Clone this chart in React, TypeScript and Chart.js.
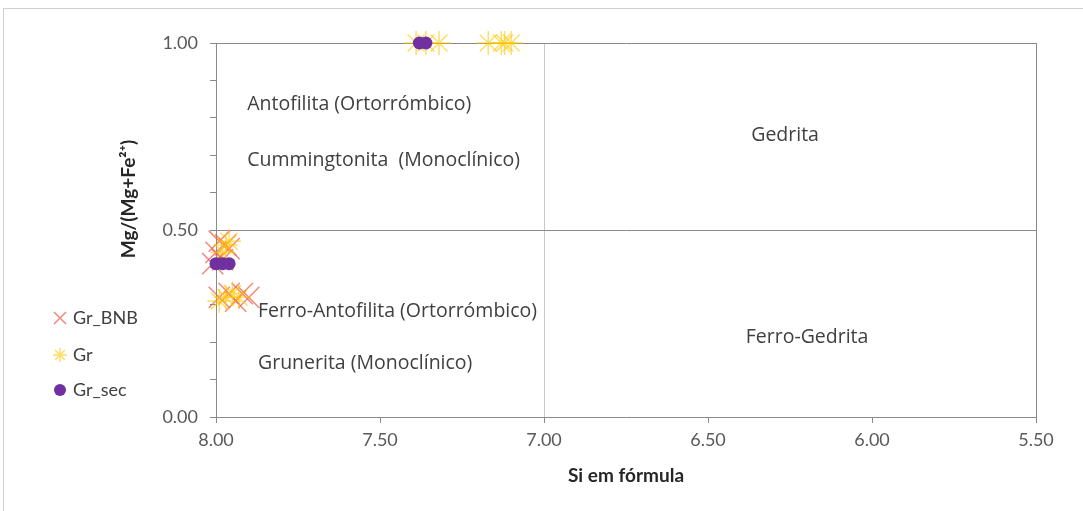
import React, { useEffect, useRef } from "react";
import { Chart, registerables } from "chart.js";

Chart.register(...registerables);

// ---- data ----
const grBnbSi = [7.99, 7.97, 7.96, 8.0, 7.98, 8.01, 7.99, 7.96, 7.92, 7.94, 7.9];
const grBnbMg = [0.47, 0.46, 0.45, 0.44, 0.42, 0.41, 0.32, 0.33, 0.33, 0.31, 0.32];

const grSi = [7.97, 7.96, 7.98, 7.99, 7.97, 7.95, 7.93, 7.39, 7.36, 7.32, 7.17, 7.13, 7.12, 7.1];
const grMg = [0.46, 0.47, 0.44, 0.31, 0.32, 0.33, 0.32, 1.0, 1.0, 1.0, 1.0, 1.0, 1.0, 1.0];

const grSecSi = [8.0, 7.98, 7.96, 7.38, 7.36];
const grSecMg = [0.41, 0.41, 0.41, 1.0, 1.0];

const seriesNames = ["Gr_BNB", "Gr", "Gr_sec"];
const xTitle = "Si em fórmula";
const yTitle = "Mg/(Mg+Fe²⁺)";

const fieldLabels = [
  "Antofilita (Ortorrómbico)",
  "Cummingtonita  (Monoclínico)",
  "Gedrita",
  "Ferro-Antofilita (Ortorrómbico)",
  "Grunerita (Monoclínico)",
  "Ferro-Gedrita",
];
const fieldSi = [7.905, 7.905, 6.265, 7.872, 7.872, 6.198];
const fieldMg = [0.837, 0.687, 0.754, 0.281, 0.144, 0.214];
const fieldAlign = ["left", "left", "center", "left", "left", "center"];

const RED = "rgba(238, 96, 80, 0.75)";
const YELLOW = "rgba(255, 200, 0, 0.6)";
const PURPLE = "#7030A0";
const FONT = "Lato, 'Open Sans', sans-serif";
const FONT2 = "'Open Sans', Lato, sans-serif";

const toPts = (xs: number[], ys: number[]) => xs.map((x, i) => ({ x, y: ys[i] }));

const near = (a: number, b: number) => Math.abs(a - b) < 1e-6;

const decorPlugin = {
  id: "decor",
  afterDatasetsDraw(chart: any) {
    const { ctx, scales } = chart;
    const xs = scales.x;
    const ys = scales.y;
    ctx.save();
    ctx.fillStyle = "#404040";
    ctx.font = `19.5px ${FONT2}`;
    ctx.textBaseline = "middle";
    fieldLabels.forEach((t, i) => {
      ctx.textAlign = fieldAlign[i];
      ctx.fillText(t, xs.getPixelForValue(fieldSi[i]), ys.getPixelForValue(fieldMg[i]));
    });
    ctx.restore();
  },
  afterDraw(chart: any) {
    const { ctx, chartArea } = chart;
    ctx.save();
    ctx.strokeStyle = "#d0d0d0";
    ctx.lineWidth = 1;
    ctx.beginPath();
    ctx.moveTo(3.5, 511);
    ctx.lineTo(3.5, 8.5);
    ctx.lineTo(1083, 8.5);
    ctx.stroke();

    ctx.fillStyle = "#262626";
    ctx.font = `bold 19px ${FONT}`;
    ctx.textAlign = "center";
    ctx.textBaseline = "middle";
    ctx.fillText(xTitle, (chartArea.left + chartArea.right) / 2, 476);
    ctx.save();
    ctx.translate(129, 199);
    ctx.rotate(-Math.PI / 2);
    ctx.fillText(yTitle, 0, 0);
    ctx.restore();

    const lx = 60;
    const rows = [318, 355, 390];
    ctx.lineWidth = 1.5;
    ctx.strokeStyle = RED;
    ctx.beginPath();
    ctx.moveTo(lx - 6, rows[0] - 6);
    ctx.lineTo(lx + 6, rows[0] + 6);
    ctx.moveTo(lx + 6, rows[0] - 6);
    ctx.lineTo(lx - 6, rows[0] + 6);
    ctx.stroke();
    ctx.strokeStyle = YELLOW;
    ctx.beginPath();
    for (let k = 0; k < 4; k++) {
      const a = (k * Math.PI) / 4;
      ctx.moveTo(lx - Math.cos(a) * 7, rows[1] - Math.sin(a) * 7);
      ctx.lineTo(lx + Math.cos(a) * 7, rows[1] + Math.sin(a) * 7);
    }
    ctx.stroke();
    ctx.fillStyle = PURPLE;
    ctx.beginPath();
    ctx.arc(lx, rows[2], 6, 0, Math.PI * 2);
    ctx.fill();

    ctx.fillStyle = "#404040";
    ctx.font = `18px ${FONT}`;
    ctx.textAlign = "left";
    ctx.textBaseline = "middle";
    seriesNames.forEach((n, i) => ctx.fillText(n, 73, rows[i]));
    ctx.restore();
  },
};

export default function App() {
  const ref = useRef<HTMLCanvasElement>(null);
  useEffect(() => {
    document.body.style.margin = "0";
    const chart = new Chart(ref.current!, {
      type: "scatter",
      data: {
        datasets: [
          {
            label: seriesNames[0],
            data: toPts(grBnbSi, grBnbMg),
            pointStyle: "crossRot",
            radius: 15,
            borderColor: RED,
            backgroundColor: RED,
            borderWidth: 1.5,
            clip: false,
            order: 3,
          },
          {
            label: seriesNames[1],
            data: toPts(grSi, grMg),
            pointStyle: "star",
            radius: 12,
            borderColor: YELLOW,
            backgroundColor: YELLOW,
            borderWidth: 1.5,
            clip: false,
            order: 2,
          },
          {
            label: seriesNames[2],
            data: toPts(grSecSi, grSecMg),
            pointStyle: "circle",
            radius: 6.5,
            borderColor: PURPLE,
            backgroundColor: PURPLE,
            borderWidth: 0,
            clip: false,
            order: 1,
          },
        ] as any,
      },
      options: {
        animation: false,
        responsive: false,
        devicePixelRatio: 1,
        layout: { padding: { top: 43, right: 47, left: 0, bottom: 0 } },
        plugins: {
          legend: { display: false },
          tooltip: { enabled: false },
        },
        scales: {
          x: {
            type: "linear",
            reverse: true,
            min: 5.5,
            max: 8.0,
            afterFit: (s: any) => {
              s.height = 94;
            },
            ticks: {
              stepSize: 0.5,
              color: "#595959",
              font: { family: FONT, size: 18 },
              padding: 6,
              callback: (v: any) => Number(v).toFixed(2),
            },
            grid: {
              color: (c: any) =>
                c.tick && near(c.tick.value, 7)
                  ? "#c8c8c8"
                  : c.tick && near(c.tick.value, 5.5)
                  ? "#8a8a8a"
                  : "rgba(0,0,0,0)",
              tickColor: "#8a8a8a",
              tickLength: 6,
              drawTicks: true,
            },
            border: { color: "#8a8a8a", width: 1 },
          },
          y: {
            type: "linear",
            min: 0,
            max: 1,
            afterFit: (s: any) => {
              s.width = 216;
            },
            ticks: {
              stepSize: 0.1,
              autoSkip: false,
              color: "#595959",
              font: { family: FONT, size: 18 },
              padding: 12,
              callback: (v: any) => {
                const n = Number(v);
                return near(n, 0) || near(n, 0.5) || near(n, 1) ? n.toFixed(2) : "";
              },
            },
            grid: {
              color: (c: any) =>
                c.tick && (near(c.tick.value, 0.5) || near(c.tick.value, 1))
                  ? "#8a8a8a"
                  : "rgba(0,0,0,0)",
              tickColor: "#8a8a8a",
              tickLength: 6,
              drawTicks: true,
            },
            border: { color: "#8a8a8a", width: 1 },
          },
        },
      } as any,
      plugins: [decorPlugin],
    });
    return () => chart.destroy();
  }, []);
  return (
    <div style={{ position: "absolute", left: 0, top: 0, width: 1083, height: 511, background: "#fff" }}>
      <canvas ref={ref} width={1083} height={511} style={{ display: "block" }} />
    </div>
  );
}
